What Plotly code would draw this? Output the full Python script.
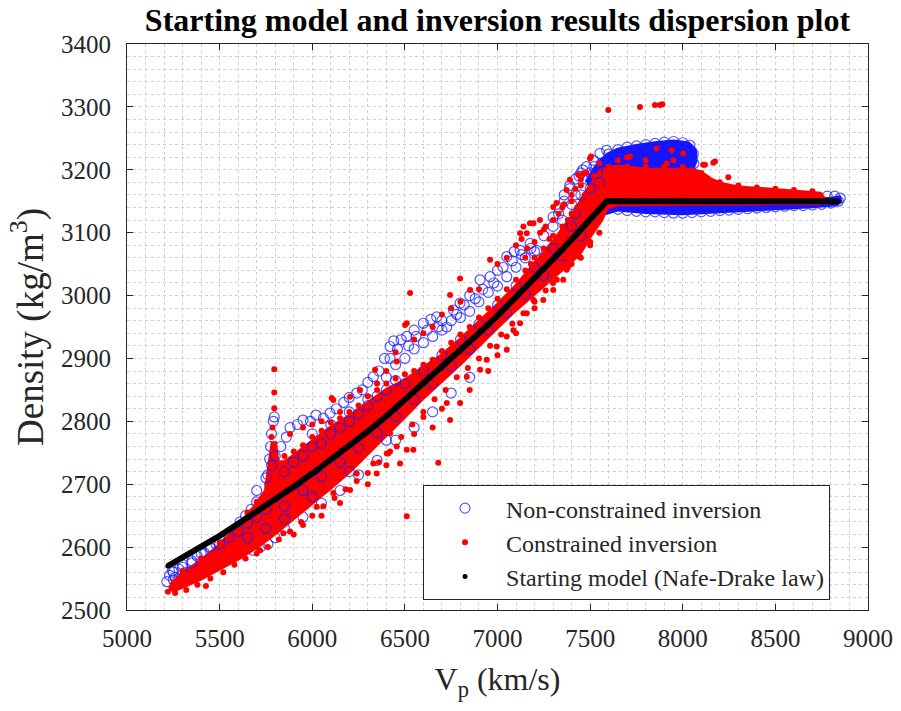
import plotly.graph_objects as go

# ---------------- data ----------------
# Starting model (Nafe-Drake law)
nd_vp = [5220, 5300, 5400, 5500, 5600, 5700, 5800, 5900, 6000, 6100, 6200, 6300,
         6400, 6500, 6600, 6700, 6800, 6900, 7000, 7100, 7200, 7300, 7400, 7500,
         7590, 7700, 7800, 8000, 8200, 8400, 8600, 8840]
nd_rho = [2570, 2583, 2601, 2618, 2637, 2656, 2675, 2696, 2717, 2739, 2761, 2784,
          2808, 2834, 2859, 2885, 2912, 2940, 2968, 2997, 3027, 3058, 3089, 3121,
          3150, 3150, 3150, 3150, 3150, 3150, 3150, 3150]

# Non-constrained inversion: dense blue envelopes (cores of overlapping circles)
nc_blob_vp = [7480, 7520, 7560, 7600, 7650, 7750, 7850, 7950, 8030, 8065, 8070, 8050,
              7950, 7800, 7650, 7560, 7500]
nc_blob_rho = [3180, 3200, 3215, 3225, 3232, 3238, 3242, 3245, 3242, 3232, 3215, 3200,
               3198, 3198, 3196, 3185, 3165]
nc_band_vp = [7560, 7590, 8000, 8500, 8800, 8845, 8850, 8830, 8700, 8400, 8200, 8000,
              7800, 7650, 7570]
nc_band_rho = [3140, 3152, 3152, 3152, 3154, 3156, 3150, 3145, 3142, 3138, 3134, 3131,
               3133, 3137, 3130]

# Non-constrained inversion: circles lying under the constrained cloud
nc_vp = [5215, 5230, 5245, 5260, 5280, 5300, 5320, 5350, 5380, 5410, 5420, 5450, 5480,
         5520, 5550, 5580, 5610, 5640, 5670, 5700, 5400, 5460, 5530, 5600, 5650, 5720,
         5610, 5680, 5760, 5800, 5250, 5330,
         5770, 5775, 5780, 5790, 5795, 5785, 5770, 5760,
         5830, 5860, 5880, 5920, 5950, 5990, 6020, 6060, 6096, 6130, 6170, 6200, 6240,
         6270, 6300, 6330, 6360, 6390, 6420, 6440, 6480, 6510, 6550, 6600, 6640, 6672,
         6726, 6762, 6798, 6850, 6906, 6960, 7000, 7050, 7090, 7122, 7176, 7212, 7250,
         7300, 7330, 7360, 7390, 7420, 7450, 7480, 7520, 7553, 7589,
         6000, 6100, 6200, 6300, 6400, 6450, 6500, 6550, 6600, 6650, 6700, 6750, 6800,
         6850, 6900, 6950, 7000, 7050, 7100, 7150, 7200,
         5850, 5950, 6050, 6150, 6250, 6350, 6450, 6550, 6650, 6750, 6850,
         7600, 7650, 7700, 7750, 7800, 7850, 7900, 7950, 8000, 8039, 8057, 8060, 8040,
         7620, 7580, 7540, 7500, 7470,
         7600, 7650, 7700, 7750, 7800, 7850, 7900, 7950, 8000, 8050, 8100, 8150, 8200,
         8250, 8300, 8350, 8400, 8450, 8500, 8550, 8600, 8650, 8700, 8750, 8800, 8840,
         8850, 8820, 8780,
         6420, 6460, 6520, 6560, 6620, 6680, 6700, 6780, 6820, 6880, 6920, 6980, 7030,
         7080, 7130, 7180]
nc_rho = [2545, 2555, 2562, 2552, 2565, 2572, 2560, 2578, 2585, 2560, 2590, 2598, 2605,
          2612, 2620, 2628, 2640, 2650, 2660, 2672, 2575, 2578, 2595, 2600, 2610, 2600,
          2590, 2595, 2605, 2615, 2548, 2558,
          2740, 2760, 2780, 2800, 2807, 2720, 2700, 2715,
          2760, 2775, 2790, 2795, 2802, 2800, 2810, 2805, 2813, 2820, 2830, 2838, 2845,
          2850, 2862, 2871, 2880, 2900, 2919, 2928, 2930, 2935, 2945, 2956, 2962, 2966,
          2950, 2977, 2988, 3000, 3025, 3030, 3040, 3062, 3070, 3072, 3083, 3072, 3095,
          3110, 3130, 3150, 3170, 3185, 3195, 3205, 3215, 3226, 3231,
          2780, 2795, 2815, 2835, 2870, 2890, 2900, 2915, 2925, 2935, 2945, 2960, 2965,
          2975, 2990, 3005, 3015, 3030, 3045, 3060, 3070,
          2630, 2648, 2670, 2690, 2715, 2738, 2770, 2790, 2815, 2845, 2870,
          3225, 3232, 3236, 3238, 3240, 3242, 3244, 3245, 3243, 3239, 3225, 3210, 3200,
          3195, 3180, 3170, 3160, 3150,
          3142, 3137, 3135, 3134, 3133, 3133, 3132, 3131, 3131, 3132, 3133, 3134, 3135,
          3136, 3137, 3138, 3139, 3140, 3141, 3142, 3143, 3143, 3144, 3145, 3147, 3150,
          3155, 3158, 3158,
          2900, 2915, 2920, 2935, 2945, 2950, 2960, 2970, 2985, 2995, 3010, 3020, 3045,
          3055, 3065, 3075]

# Non-constrained inversion: circles showing through the constrained cloud
nc_mix_vp = [5250, 5300, 5350, 5400, 5450, 5500, 5550, 5600, 5650, 5700, 5750,
             5700, 5750, 5780, 5800,
             5850, 5900, 5950, 6000, 6050, 6100, 6150, 6200, 6250, 6300, 6350, 6400, 6450,
             5850, 5950, 6050, 6150, 6250, 6350, 6450, 6550, 6650, 6750, 6850, 6950,
             7050, 7150, 7250, 7350, 7450,
             6500, 6600, 6700, 6800, 6900, 7000, 7100, 7200, 7300, 7400,
             5650, 5750, 5850, 6000, 6200, 6400,
             7300, 7330, 7360, 7390, 7420, 7440, 7460, 7480, 7500, 7520, 7540, 7560,
             7400, 7450, 7500, 7550, 7350, 7420]
nc_mix_rho = [2560, 2568, 2575, 2590, 2600, 2605, 2615, 2625, 2638, 2648, 2660,
              2690, 2710, 2730, 2745,
              2720, 2735, 2745, 2760, 2765, 2780, 2790, 2800, 2812, 2825, 2840, 2850, 2865,
              2665, 2690, 2712, 2735, 2758, 2782, 2808, 2835, 2860, 2888, 2915, 2945,
              2972, 3002, 3032, 3063, 3095,
              2860, 2880, 2905, 2930, 2955, 2985, 3015, 3045, 3075, 3110,
              2615, 2630, 2645, 2680, 2720, 2770,
              3125, 3140, 3160, 3175, 3160, 3190, 3200, 3185, 3195, 3205, 3195, 3210,
              3145, 3160, 3170, 3180, 3120, 3130]

# Constrained inversion: dense red envelope (core of overlapping dots)
c_core_vp = [5235, 5300, 5400, 5500, 5600, 5700, 5750, 5770, 5785, 5800, 5812, 5850,
             5900, 6000, 6100, 6200, 6300, 6400, 6500, 6600, 6700, 6800, 6900, 7000,
             7100, 7200, 7300, 7400, 7450, 7500, 7560, 7650, 7800, 7950, 8050, 8100,
             8150, 8200, 8300, 8400, 8550, 8650, 8740, 8760,
             8740, 8500, 8200, 7900, 7650, 7590, 7560, 7500, 7450, 7400, 7300, 7200,
             7100, 7000, 6900, 6800, 6700, 6600, 6500, 6400, 6300, 6200, 6100, 6000,
             5900, 5800, 5700, 5600, 5500, 5400, 5300, 5240]
c_core_rho = [2540, 2558, 2578, 2603, 2633, 2668, 2690, 2730, 2765, 2765, 2735, 2735,
              2745, 2768, 2790, 2808, 2830, 2850, 2865, 2885, 2905, 2930, 2957, 2985,
              3015, 3050, 3085, 3125, 3150, 3175, 3200, 3205, 3200, 3200, 3200, 3195,
              3185, 3178, 3172, 3170, 3167, 3165, 3162, 3155,
              3147, 3147, 3146, 3146, 3145, 3140, 3120, 3095, 3070, 3055, 3030, 3005,
              2978, 2950, 2920, 2892, 2865, 2838, 2808, 2778, 2748, 2720, 2695, 2670,
              2645, 2622, 2600, 2582, 2566, 2550, 2537, 2530]

# Constrained inversion: individual dots
c_vp = [5221, 5240, 5260, 5290, 5330, 5380, 5426, 5300, 5350, 5400, 5450, 5500,
        5795, 5795, 5795, 5785, 5780,
        6105, 6114, 6204, 6258, 6339, 6456, 6501, 6510, 6528, 6744, 6798, 6852, 6960,
        7000, 7122, 7140, 7194, 7229, 7158, 7319, 7499, 7505, 7463, 7436, 7391, 7373,
        7301, 7175, 5880, 5950, 6000, 6050, 6150, 6350, 6400, 6450, 6550, 6600, 6650,
        6700, 6750, 6800, 6900, 7050, 7100, 7250, 7300, 7350, 7400, 7450, 7550,
        6474, 6410, 6546, 6680, 6510, 6600, 6726, 6798, 6744, 6672, 6834, 6906, 6942,
        6996, 7050, 7050, 7086, 7122, 7158, 7194, 7229, 7247, 7301, 7355, 7373, 7373,
        6114, 6204, 6240, 6330, 6402, 6420, 6456, 6348, 6024, 5844, 5718, 6510, 6300,
        6150, 6050, 5950, 5900, 6400, 6550, 6650, 6700, 6850, 6950, 7000, 7100, 7200,
        7300, 7400, 7450, 7500, 7550,
        7598, 7769, 7850, 7877, 7890,
        8174, 8120, 8246, 8110, 8165, 7715, 7859, 7940, 8003, 7913, 7800, 7650, 7700,
        7950, 8100, 8200, 8300, 8400, 8500, 8600, 8700, 8740, 7600, 7700, 7800, 7900,
        8000]
c_rho = [2529, 2535, 2540, 2545, 2548, 2552, 2538, 2555, 2560, 2570, 2575, 2585,
         2883, 2846, 2821, 2790, 2775,
         2837, 2834, 2839, 2850, 2882, 2895, 2953, 2956, 3004, 3001, 3027, 3009, 3057,
         3050, 3099, 3110, 3115, 3120, 3099, 3147, 3218, 3221, 3194, 3192, 3184, 3168,
         3141, 3115, 2780, 2790, 2795, 2800, 2815, 2860, 2880, 2910, 2930, 2940, 2950,
         2970, 2980, 2990, 3010, 3060, 3080, 3105, 3120, 3140, 3160, 3175, 3210,
         2733, 2749, 2755, 2734, 2649, 2807, 2829, 2829, 2802, 2866, 2871, 2882, 2898,
         2919, 2914, 2935, 2945, 2956, 2972, 2993, 3014, 2993, 3009, 3025, 3041, 3062,
         2686, 2691, 2717, 2733, 2749, 2781, 2760, 2717, 2664, 2622, 2595, 2755, 2700,
         2670, 2650, 2635, 2620, 2730, 2780, 2790, 2820, 2850, 2880, 2905, 2940, 2980,
         3020, 3050, 3060, 3080, 3100,
         3295, 3300, 3303, 3303, 3304,
         3213, 3208, 3188, 3208, 3211, 3221, 3234, 3231, 3226, 3210, 3215, 3215, 3220,
         3215, 3195, 3180, 3175, 3172, 3170, 3168, 3166, 3160, 3205, 3205, 3205, 3205,
         3205]

# Constrained inversion: dots along the edges of the dense cloud
c_edge_vp = [5300, 5400, 5500, 5600, 5650, 5700, 5850, 5900, 5950, 6000, 6050, 6100,
             6150, 6200, 6250, 6300, 6350, 6400, 6450, 6500, 6550, 6600, 6650, 6700,
             6750, 6800, 6850, 6900, 6950, 7000, 7050, 7100, 7150, 7200, 7250, 7300,
             7350, 7400,
             5260, 5320, 5380, 5450, 5520, 5580, 5640, 5700, 5760, 5820, 5880, 5940,
             6000, 6060, 6120, 6180, 6240, 6300, 6360, 6420, 6480, 6540, 6600, 6660,
             6720, 6780, 6840, 6900, 6960, 7020, 7080, 7140, 7200, 7260, 7320, 7380,
             7440, 7500,
             7330, 7360, 7400, 7420, 7450, 7480, 7520, 7540, 7560, 7470, 7500, 7530,
             7560, 7430, 7380,
             7130, 7160, 7200, 7230, 7260, 7280, 7150, 7180]
c_edge_rho = [2562, 2582, 2607, 2637, 2655, 2672, 2745, 2752, 2762, 2775, 2785, 2798,
              2805, 2815, 2825, 2840, 2850, 2860, 2868, 2875, 2880, 2890, 2898, 2912,
              2925, 2938, 2950, 2965, 2980, 2995, 3010, 3025, 3040, 3060, 3075, 3095,
              3110, 3130,
              2527, 2532, 2540, 2550, 2560, 2572, 2582, 2590, 2600, 2612, 2625, 2640,
              2650, 2665, 2678, 2692, 2705, 2718, 2735, 2752, 2775, 2795, 2815, 2835,
              2850, 2870, 2885, 2900, 2920, 2938, 2955, 2972, 2990, 3008, 3025, 3045,
              3062, 3085,
              3130, 3145, 3150, 3170, 3185, 3195, 3190, 3180, 3170, 3160, 3140, 3150,
              3150, 3140, 3120,
              3090, 3075, 3085, 3100, 3110, 3090, 3060, 3050]

# ---------------- figure ----------------
BLUE = "rgb(20,20,255)"
RED = "rgb(255,0,0)"
SERIF = "Liberation Serif, Times New Roman, serif"
CIRCLE = dict(symbol="circle-open", size=10, color="rgba(30,30,255,0.75)",
              line=dict(width=1.2))

fig = go.Figure()

for vx, vy in [(nc_blob_vp, nc_blob_rho), (nc_band_vp, nc_band_rho)]:
    fig.add_trace(go.Scatter(x=vx, y=vy, mode="lines", fill="toself",
                             fillcolor=BLUE, line=dict(color=BLUE, width=4),
                             showlegend=False, hoverinfo="skip"))

fig.add_trace(go.Scatter(x=nc_vp, y=nc_rho, mode="markers",
                         name="Non-constrained inversion", marker=CIRCLE))

fig.add_trace(go.Scatter(x=c_core_vp, y=c_core_rho, mode="lines", fill="toself",
                         fillcolor=RED, line=dict(color=RED, width=4),
                         showlegend=False, hoverinfo="skip"))

fig.add_trace(go.Scatter(x=nc_mix_vp, y=nc_mix_rho, mode="markers",
                         marker=CIRCLE, showlegend=False, hoverinfo="skip"))

fig.add_trace(go.Scatter(x=c_edge_vp, y=c_edge_rho, mode="markers",
                         marker=dict(symbol="circle", size=6, color=RED),
                         showlegend=False, hoverinfo="skip"))
fig.add_trace(go.Scatter(x=c_vp, y=c_rho, mode="markers",
                         name="Constrained inversion",
                         marker=dict(symbol="circle", size=6, color=RED)))

fig.add_trace(go.Scatter(x=nd_vp, y=nd_rho, mode="lines",
                         line=dict(color="black", width=6),
                         showlegend=False, hoverinfo="skip"))
fig.add_trace(go.Scatter(x=nd_vp, y=nd_rho, mode="markers",
                         name="Starting model (Nafe-Drake law)",
                         marker=dict(symbol="circle", size=5, color="black")))

grid_color = "#cfcfcf"
axis_common = dict(showline=True, linecolor="#262626", linewidth=1, mirror="ticks",
                   ticks="inside", ticklen=6, tickcolor="#262626",
                   showgrid=True, gridcolor=grid_color, griddash="3px,3px",
                   zeroline=False,
                   tickfont=dict(family=SERIF, size=25, color="#262626"))

fig.update_xaxes(range=[5000, 9000], dtick=500, tick0=5000,
                 minor=dict(dtick=100, showgrid=True, gridcolor=grid_color,
                            griddash="3px,3px"),
                 title=dict(text="V<sub>p</sub> (km/s)", standoff=16,
                            font=dict(family=SERIF, size=32, color="#262626")),
                 ticklabelstandoff=6,
                 **axis_common)
fig.update_yaxes(range=[2500, 3400], dtick=100, tick0=2500,
                 minor=dict(dtick=20, showgrid=True, gridcolor=grid_color,
                            griddash="3px,3px"),
                 title=dict(text="Density (kg/m<sup>3</sup>)", standoff=6,
                            font=dict(family=SERIF, size=37, color="#262626")),
                 ticklabelstandoff=10,
                 **axis_common)

fig.update_layout(
    width=901, height=711,
    margin=dict(l=127, r=33, t=44, b=101, autoexpand=False),
    paper_bgcolor="white", plot_bgcolor="white",
    title=dict(text="<b>Starting model and inversion results dispersion plot</b>",
               x=0.5, xref="paper", xanchor="center", y=0.972, yanchor="middle",
               font=dict(family=SERIF, size=32, color="black")),
    legend=dict(x=0.3995, y=0.2208, xanchor="left", yanchor="top",
                bgcolor="white", bordercolor="#262626", borderwidth=1,
                font=dict(family=SERIF, size=24, color="#262626"),
                itemwidth=72, tracegroupgap=0),
    showlegend=True,
)

fig.write_html("out.html")
